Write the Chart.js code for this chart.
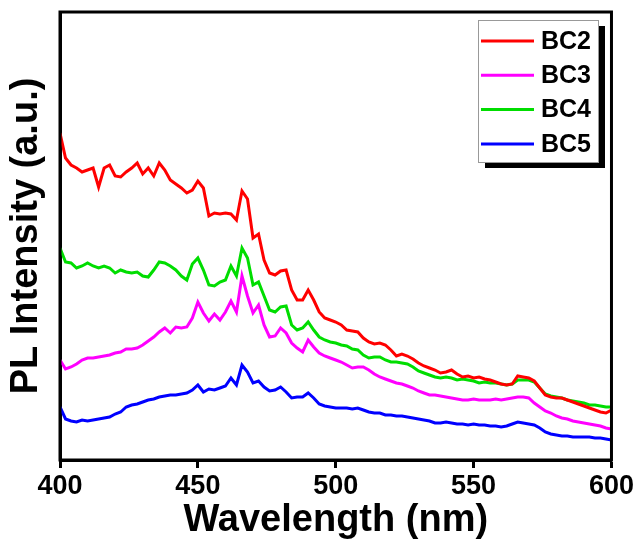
<!DOCTYPE html>
<html>
<head>
<meta charset="utf-8">
<script src="https://cdn.jsdelivr.net/npm/chart.js@4.4.1/dist/chart.umd.min.js"></script>
<style>
  html, body { margin: 0; padding: 0; background: #fff; }
  #wrap { width: 636px; height: 539px; }
</style>
</head>
<body>
<div id="wrap"><canvas id="pl" width="636" height="539"></canvas></div>
<script>
// wavelength axis, 2 nm steps
const wavelengths = [];
for (let w = 400; w <= 600; w += 2) wavelengths.push(w);

const seriesLabels = ["BC2", "BC3", "BC4", "BC5"];
const seriesColors = ["#ff0000", "#ff00ff", "#00dd00", "#0000ff"];
const xTicks = [400, 450, 500, 550, 600];

// PL intensity (a.u.)
const bc2 = [
  327, 302, 295, 292, 288, 290, 292, 273, 292, 295,
  284, 283, 288, 292, 297, 286, 292, 284, 297, 290,
  280, 276, 272, 267, 270, 279, 272, 244, 247, 246,
  247, 246, 240, 269, 261, 222, 226, 200, 187, 185,
  189, 190, 170, 160, 160, 170, 160, 148, 142, 140,
  138, 135, 130, 129, 128, 122, 118, 116, 117, 115,
  110, 104, 106, 104, 101, 97, 94, 92, 90, 87,
  88, 90, 86, 83, 84, 82, 83, 81, 80, 78,
  76, 75, 76, 84, 83, 82, 79, 72, 65, 63,
  62, 62, 60, 58, 56, 54, 52, 50, 48, 47,
  50
];
const bc3 = [
  100, 91, 93, 96, 100, 102, 102, 103, 104, 105,
  107, 108, 111, 111, 112, 115, 119, 123, 128, 132,
  127, 133, 132, 133, 142, 158, 147, 139, 146, 140,
  148, 159, 148, 184, 164, 147, 155, 135, 123, 124,
  132, 127, 117, 112, 108, 120, 113, 107, 104, 102,
  100, 98, 95, 92, 93, 93, 90, 86, 83, 81,
  79, 77, 76, 74, 72, 69, 67, 65, 65, 64,
  63, 62, 61, 60, 60, 61, 60, 60, 60, 61,
  60, 61, 62, 63, 63, 62, 57, 53, 49, 47,
  44, 42, 41, 39, 38, 37, 36, 35, 34, 32,
  31
];
const bc4 = [
  212, 198, 197, 192, 194, 197, 194, 192, 194, 192,
  187, 190, 188, 187, 188, 184, 183, 190, 198, 197,
  194, 190, 184, 180, 196, 202, 190, 175, 174, 178,
  180, 194, 184, 212, 202, 175, 178, 164, 150, 148,
  153, 154, 135, 130, 132, 138, 130, 123, 120, 118,
  117, 115, 114, 111, 110, 105, 102, 103, 103, 100,
  98, 98, 97, 96, 93, 89, 87, 85, 83, 82,
  83, 82, 80, 81, 80, 79, 77, 78, 77, 77,
  76, 75, 76, 80, 80, 80, 78, 72, 66, 64,
  63, 62, 60, 59, 58, 57, 55, 55, 54, 53,
  53
];
const bc5 = [
  53, 41, 39, 38, 40, 39, 40, 41, 42, 43,
  46, 48, 53, 55, 56, 58, 60, 61, 63, 64,
  65, 65, 66, 67, 70, 75, 68, 71, 70, 72,
  74, 82, 75, 95, 88, 77, 79, 73, 69, 70,
  73, 68, 62, 63, 63, 67, 62, 56, 54, 53,
  52, 52, 52, 51, 52, 50, 48, 47, 47, 45,
  45, 44, 44, 43, 42, 41, 40, 39, 37, 37,
  38, 37, 36, 36, 35, 36, 35, 35, 34, 34,
  33, 34, 36, 38, 37, 36, 35, 32, 28, 26,
  25, 24, 24, 23, 23, 23, 23, 22, 22, 21,
  20
];
const seriesValues = [bc2, bc3, bc4, bc5];

const sans = "'Liberation Sans', Arial, sans-serif";

// box round the plot
const framePlugin = {
  id: "frame",
  afterDatasetsDraw(chart) {
    const { ctx, chartArea: a } = chart;
    ctx.save();
    ctx.strokeStyle = "#000";
    ctx.lineWidth = 3;
    ctx.strokeRect(a.left, a.top, a.right - a.left, a.bottom - a.top);
    ctx.restore();
  }
};

// legend with a grey box and black drop shadow
const legendBox = {
  id: "legendBox",
  afterDraw(chart) {
    const ctx = chart.ctx;
    const x = 478, y = 20, w = 120, h = 142;
    ctx.save();
    ctx.fillStyle = "#000";
    ctx.fillRect(x + 7, y + 6, w, h);
    ctx.fillStyle = "#fff";
    ctx.fillRect(x, y, w, h);
    ctx.strokeStyle = "#999";
    ctx.lineWidth = 1;
    ctx.strokeRect(x + 0.5, y + 0.5, w, h);
    ctx.font = "bold 25px " + sans;
    ctx.textBaseline = "middle";
    chart.data.datasets.forEach((ds, i) => {
      const ly = 41 + i * 34.3;
      ctx.strokeStyle = ds.borderColor;
      ctx.lineWidth = 3;
      ctx.beginPath();
      ctx.moveTo(481, ly);
      ctx.lineTo(534, ly);
      ctx.stroke();
      ctx.fillStyle = "#000";
      ctx.fillText(ds.label, 541, ly + 1);
    });
    ctx.restore();
  }
};

new Chart(document.getElementById("pl").getContext("2d"), {
  type: "line",
  data: {
    datasets: seriesLabels.map((label, i) => ({
      label,
      data: wavelengths.map((w, j) => ({ x: w, y: seriesValues[i][j] })),
      borderColor: seriesColors[i],
      borderWidth: 3,
      pointRadius: 0,
      tension: 0,
      fill: false
    }))
  },
  options: {
    responsive: false,
    animation: false,
    devicePixelRatio: 1,
    layout: { padding: { top: 12, right: 24, left: 0, bottom: 0 } },
    plugins: {
      legend: { display: false },
      tooltip: { enabled: false }
    },
    scales: {
      x: {
        type: "linear",
        min: 400,
        max: 600,
        afterBuildTicks: (s) => { s.ticks = xTicks.map((v) => ({ value: v })); },
        afterFit: (s) => { s.height = 79; },
        ticks: {
          color: "#000",
          padding: 2,
          font: { family: sans, size: 27, weight: "bold" }
        },
        grid: {
          drawOnChartArea: false,
          drawTicks: true,
          tickLength: 8,
          tickWidth: 3,
          tickColor: "#000"
        },
        border: { display: true, color: "#000", width: 3 },
        title: {
          display: true,
          text: "Wavelength (nm)",
          color: "#000",
          padding: { top: 0, bottom: -4 },
          font: { family: sans, size: 38, weight: "bold" }
        }
      },
      y: {
        min: 0,
        max: 448,
        afterFit: (s) => { s.width = 60; },
        ticks: { display: false },
        grid: { display: false, drawTicks: false },
        border: { display: true, color: "#000", width: 3 },
        title: {
          display: true,
          text: "PL Intensity (a.u.)",
          color: "#000",
          padding: { top: 4, bottom: 0 },
          font: { family: sans, size: 38, weight: "bold" }
        }
      }
    }
  },
  plugins: [framePlugin, legendBox]
});
</script>
</body>
</html>
